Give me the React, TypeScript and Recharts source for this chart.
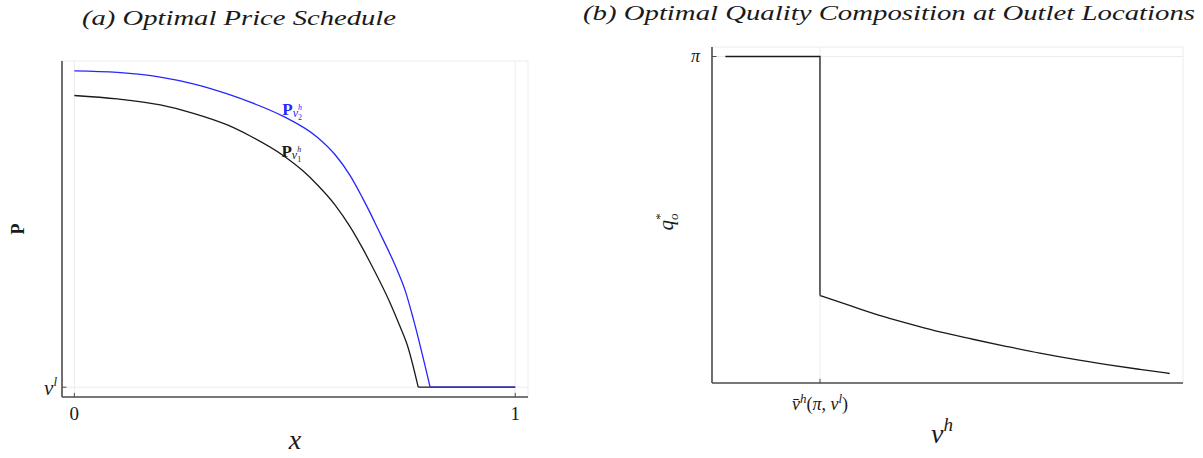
import React from 'react';
import {
  LineChart,
  Line,
  XAxis,
  YAxis,
  CartesianGrid,
  ReferenceDot,
  ReferenceLine,
} from 'recharts';

// (a) optimal price schedule, prices measured above v^l (v^l = 0)
const priceX2 = [0, 0.0975, 0.195, 0.272, 0.347, 0.399, 0.474, 0.551, 0.592, 0.626, 0.653, 0.671, 0.689, 0.717, 0.732, 0.751, 0.769, 0.807];
const priceY2 = [1, 0.995, 0.98, 0.958, 0.927, 0.901, 0.856, 0.79, 0.734, 0.668, 0.6, 0.551, 0.499, 0.418, 0.371, 0.303, 0.215, 0];
const priceX1 = [0, 0.0975, 0.195, 0.272, 0.347, 0.399, 0.472, 0.519, 0.551, 0.592, 0.626, 0.653, 0.671, 0.717, 0.739, 0.755, 0.78];
const priceY1 = [0.922, 0.911, 0.892, 0.865, 0.829, 0.794, 0.734, 0.683, 0.64, 0.575, 0.506, 0.441, 0.394, 0.264, 0.191, 0.134, 0];
// both schedules sit at v^l once the price hits the floor
const floorEndX = 1;

// (b) optimal quality at outlet locations: pi up to the cutoff, then a decaying tail
const cutoff = 0.213;
const piLevel = 1;
const qualityX = [0.213, 0.281, 0.355, 0.431, 0.483, 0.557, 0.634, 0.708, 0.783, 0.859, 0.933, 1];
const qualityY = [0.246, 0.214, 0.18, 0.15, 0.131, 0.108, 0.085, 0.064, 0.045, 0.028, 0.013, 0];

const priceTicksX = [0, 1];
const priceTicksY = [0];

const toPoints = (xs: number[], ys: number[]) => xs.map((x, i) => ({ x, y: ys[i] }));
const upper = toPoints(priceX2, priceY2);
const lower = toPoints(priceX1, priceY1);
const upperFloor = [
  { x: priceX2[priceX2.length - 1], y: 0 },
  { x: floorEndX, y: 0 },
];
const lowerFloor = [
  { x: priceX1[priceX1.length - 1], y: 0 },
  { x: floorEndX, y: 0 },
];
const qualityStep = [
  { x: 0, y: piLevel },
  { x: cutoff, y: piLevel },
  { x: cutoff, y: qualityY[0] },
];
const qualityTail = toPoints(qualityX, qualityY);

const SERIF = 'Liberation Serif';
const AXIS = '#4d4d4d';
const GRID = '#ececec';
const BLUE = '#2626ff';
const INK = '#1a1a1a';
const serif = { fontFamily: SERIF };

const NumTick = (props: any) => {
  const { x, y, payload } = props;
  return (
    <text x={x} y={y + 15} textAnchor="middle" style={serif} fontSize={19} fill={INK}>
      {payload.value}
    </text>
  );
};

const VlTick = (props: any) => {
  const { x, y } = props;
  return (
    <text x={x + 3} y={y + 8} textAnchor="end" style={serif} fill={INK}>
      <tspan fontStyle="italic" fontSize={21}>v</tspan>
      <tspan fontStyle="italic" fontSize={13} dy={-9}>l</tspan>
    </text>
  );
};

const PiTick = (props: any) => {
  const { x, y } = props;
  return (
    <text x={x - 4} y={y + 5} textAnchor="end" style={serif} fontStyle="italic" fontSize={18} fill={INK}>
      π
    </text>
  );
};

const CutoffTick = (props: any) => {
  const { x, y } = props;
  return (
    <text x={x} y={y + 19} textAnchor="middle" style={serif} fontSize={18} fill={INK}>
      <tspan fontStyle="italic">v̄</tspan>
      <tspan fontStyle="italic" fontSize={13} dy={-7}>h</tspan>
      <tspan dy={7}>(</tspan>
      <tspan fontStyle="italic">π</tspan>
      <tspan>, </tspan>
      <tspan fontStyle="italic">v</tspan>
      <tspan fontStyle="italic" fontSize={13} dy={-7}>l</tspan>
      <tspan dy={7}>)</tspan>
    </text>
  );
};

const PriceTag = ({ viewBox, color, sub, shift }: any) => {
  const { x, y } = viewBox;
  return (
    <text x={x - 1} y={y + shift} fill={color} style={serif}>
      <tspan fontWeight="bold" fontSize={17}>P</tspan>
      <tspan fontStyle="italic" fontSize={12} dy={2}>v</tspan>
      <tspan fontStyle="italic" fontSize={8} dy={-7}>h</tspan>
      <tspan fontSize={8} dx={-4} dy={10}>{sub}</tspan>
    </text>
  );
};

const PriceChart = () => (
  <LineChart width={600} height={458} margin={{ top: 61, right: 72, bottom: 31, left: 32 }}>
    <CartesianGrid stroke={GRID} strokeWidth={1} />
    <XAxis
      type="number"
      dataKey="x"
      domain={[-0.028, 1.029]}
      ticks={priceTicksX}
      height={30}
      tickLine={false}
      axisLine={{ stroke: AXIS, strokeWidth: 1.6 }}
      tick={<NumTick />}
      allowDataOverflow
    />
    <YAxis
      type="number"
      dataKey="y"
      domain={[-0.031, 1.031]}
      ticks={priceTicksY}
      width={30}
      tickLine={false}
      axisLine={{ stroke: AXIS, strokeWidth: 1.6 }}
      tick={<VlTick />}
      allowDataOverflow
    />
    {priceTicksX.map((t) => (
      <ReferenceLine key={t} segment={[{ x: t, y: -0.031 }, { x: t, y: -0.018 }]} stroke={AXIS} />
    ))}
    <ReferenceLine segment={[{ x: -0.028, y: 0 }, { x: -0.018, y: 0 }]} stroke={AXIS} />
    <Line data={lower} dataKey="y" type="monotone" stroke={INK} strokeWidth={1.3} dot={false} isAnimationActive={false} />
    <Line data={lowerFloor} dataKey="y" type="linear" stroke={INK} strokeWidth={1.3} dot={false} isAnimationActive={false} />
    <Line data={upper} dataKey="y" type="monotone" stroke={BLUE} strokeWidth={1.3} dot={false} isAnimationActive={false} />
    <Line data={upperFloor} dataKey="y" type="linear" stroke={BLUE} strokeWidth={1.3} dot={false} isAnimationActive={false} />
    <ReferenceDot
      x={priceX2[6]}
      y={priceY2[6]}
      r={0}
      label={(p: any) => <PriceTag {...p} color={BLUE} sub="2" shift={-1} />}
    />
    <ReferenceDot
      x={priceX1[6]}
      y={priceY1[6]}
      r={0}
      label={(p: any) => <PriceTag {...p} color={INK} sub="1" shift={2} />}
    />
  </LineChart>
);

const QualityChart = () => (
  <LineChart width={603} height={458} margin={{ top: 47, right: 20, bottom: 45, left: 82 }}>
    <CartesianGrid stroke={GRID} strokeWidth={1} />
    <XAxis
      type="number"
      dataKey="x"
      domain={[-0.03, 1.03]}
      ticks={[cutoff]}
      height={30}
      tickLine={false}
      axisLine={{ stroke: AXIS, strokeWidth: 1.6 }}
      tick={<CutoffTick />}
      allowDataOverflow
    />
    <YAxis
      type="number"
      dataKey="y"
      domain={[-0.03, 1.03]}
      ticks={[piLevel]}
      width={30}
      tickLine={false}
      axisLine={{ stroke: AXIS, strokeWidth: 1.6 }}
      tick={<PiTick />}
      allowDataOverflow
    />
    <ReferenceLine segment={[{ x: cutoff, y: -0.03 }, { x: cutoff, y: -0.017 }]} stroke={AXIS} />
    <ReferenceLine segment={[{ x: -0.03, y: piLevel }, { x: -0.02, y: piLevel }]} stroke={AXIS} />
    <Line data={qualityStep} dataKey="y" type="linear" stroke={INK} strokeWidth={1.3} dot={false} isAnimationActive={false} />
    <Line data={qualityTail} dataKey="y" type="monotone" stroke={INK} strokeWidth={1.3} dot={false} isAnimationActive={false} />
  </LineChart>
);

export default function App() {
  return (
    <div style={{ position: 'absolute', left: 0, top: 0, width: 1203, height: 458, background: '#fff', overflow: 'hidden' }}>
      <div style={{ position: 'absolute', left: 0, top: 0 }}>
        <PriceChart />
      </div>
      <div style={{ position: 'absolute', left: 600, top: 0 }}>
        <QualityChart />
      </div>
      <svg width={1203} height={458} style={{ position: 'absolute', left: 0, top: 0, pointerEvents: 'none' }}>
        <g style={serif} fill={INK}>
          <text x={82} y={25} fontStyle="italic" fontSize={22} textLength={314} lengthAdjust="spacingAndGlyphs">
            (a) Optimal Price Schedule
          </text>
          <text x={583} y={20} fontStyle="italic" fontSize={21} textLength={612} lengthAdjust="spacingAndGlyphs">
            (b) Optimal Quality Composition at Outlet Locations
          </text>
          <text x={295} y={449} textAnchor="middle" fontStyle="italic" fontSize={28}>
            x
          </text>
          <text x={931} y={443} fontStyle="italic" fontSize={28}>
            v<tspan fontSize={19} dy={-12}>h</tspan>
          </text>
          <text transform="translate(24,229) rotate(-90)" textAnchor="middle" fontWeight="bold" fontSize={18}>
            P
          </text>
          <text transform="translate(673,222) rotate(-90)" textAnchor="middle" fontStyle="italic" fontSize={21}>
            q<tspan fontSize={13} dy={5}>o</tspan>
            <tspan fontSize={13} dx={-7} dy={-14}>*</tspan>
          </text>
        </g>
      </svg>
    </div>
  );
}
